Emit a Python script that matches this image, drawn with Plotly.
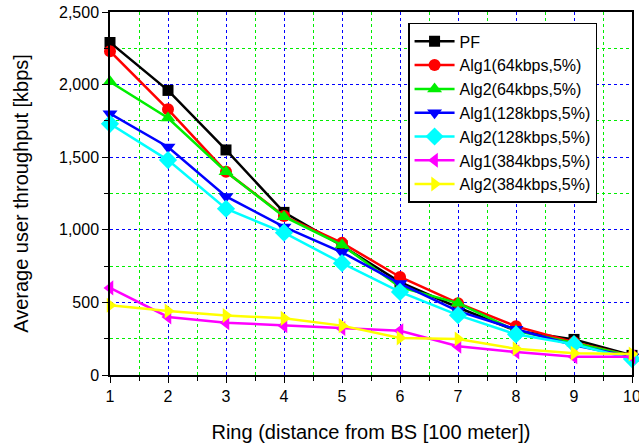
import plotly.graph_objects as go

rings = [1, 2, 3, 4, 5, 6, 7, 8, 9, 10]
pf = [2290, 1960, 1550, 1120, 890, 640, 465, 305, 245, 135]
alg1_64 = [2230, 1830, 1400, 1095, 910, 675, 495, 335, 225, 130]
alg2_64 = [2020, 1770, 1400, 1090, 895, 605, 495, 305, 220, 130]
alg1_128 = [1800, 1570, 1230, 1020, 845, 630, 440, 315, 205, 125]
alg2_128 = [1730, 1480, 1145, 980, 770, 572, 412, 280, 212, 110]
alg1_384 = [600, 400, 360, 340, 320, 305, 198, 158, 126, 125]
alg2_384 = [480, 440, 410, 390, 340, 255, 248, 180, 150, 145]

series = [
    ("PF", pf, "black", "square", 11),
    ("Alg1(64kbps,5%)", alg1_64, "#ff0000", "circle", 12),
    ("Alg2(64kbps,5%)", alg2_64, "#00ee00", "triangle-up", 13),
    ("Alg1(128kbps,5%)", alg1_128, "#0000ff", "triangle-down", 13),
    ("Alg2(128kbps,5%)", alg2_128, "#00ffff", "diamond", 14),
    ("Alg1(384kbps,5%)", alg1_384, "#ff00ff", "triangle-left", 13),
    ("Alg2(384kbps,5%)", alg2_384, "#ffff00", "triangle-right", 13),
]

fig = go.Figure()
for name, vals, color, sym, sz in series:
    fig.add_trace(go.Scatter(
        x=rings, y=vals, name=name, mode="lines+markers",
        line=dict(color=color, width=2.5),
        marker=dict(symbol=sym, size=sz, color=color),
        cliponaxis=False,
    ))

font = "Liberation Sans, Arial, sans-serif"
fig.update_layout(
    width=639, height=447,
    margin=dict(l=110, r=7, t=12, b=72, autoexpand=False),
    paper_bgcolor="white", plot_bgcolor="white",
    font=dict(family=font, size=16, color="black"),
    showlegend=True,
    legend=dict(
        x=0.571, y=0.970, xanchor="left", yanchor="top",
        bgcolor="white", bordercolor="black", borderwidth=1.5,
        font=dict(family=font, size=16, color="black"),
        tracegroupgap=0, itemwidth=40,
        entrywidth=160, entrywidthmode="pixels",
    ),
)
fig.update_xaxes(
    range=[1, 10], dtick=1, tick0=1, automargin=False, ticklabeloverflow="allow",
    showline=True, linecolor="black", linewidth=1.5, mirror=True,
    ticks="outside", ticklen=6, tickcolor="black",
    showgrid=True, gridcolor="#0000ff", griddash="dot", gridwidth=1,
    zeroline=False,
    minor=dict(dtick=0.5, tick0=1, showgrid=True, gridcolor="#00ee00", griddash="dot",
               gridwidth=1, ticks="outside", ticklen=4, tickcolor="black"),
    title=dict(text="Ring (distance from BS [100 meter])", font=dict(size=20), standoff=21),
    tickfont=dict(size=16),
)
fig.update_yaxes(
    range=[0, 2500], dtick=500, tick0=0, tickformat=",", automargin=False,
    ticklabeloverflow="allow",
    showline=True, linecolor="black", linewidth=1.5, mirror=True,
    ticks="outside", ticklen=6, tickcolor="black",
    showgrid=True, gridcolor="#0000ff", griddash="dot", gridwidth=1,
    zeroline=False,
    minor=dict(dtick=250, tick0=0, showgrid=True, gridcolor="#00ee00", griddash="dot",
               gridwidth=1, ticks="outside", ticklen=4, tickcolor="black"),
    title=dict(text="Average user throughput [kbps]", font=dict(size=20), standoff=25),
    tickfont=dict(size=16),
)
fig.write_html("out.html", config={"displayModeBar": False},
               post_script="document.body.style.margin='0';")
